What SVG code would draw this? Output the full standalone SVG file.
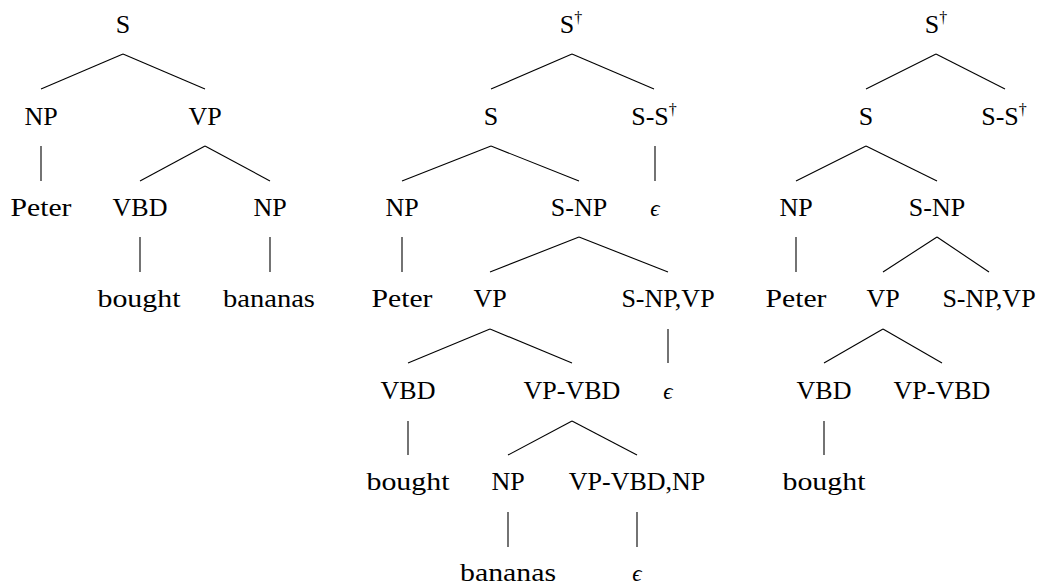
<svg xmlns="http://www.w3.org/2000/svg" width="1041" height="588" viewBox="0 0 1041 588">
  <style>
    .nodes text { font-size: 26px; fill: #000; text-anchor: middle; }
    .nodes text.eps { font-style: italic; font-size: 23px; }
    .nodes tspan.dag { font-size: 16px; }
    .edges line { stroke: #000; stroke-width: 1.1; fill: none; }
  </style>
  <rect width="1041" height="588" fill="#fff"/>

  <!-- connectors -->
  <g class="edges" id="edges">
    <!-- tree 1 -->
    <line x1="123" y1="54" x2="41" y2="89"/>
    <line x1="123" y1="54" x2="205" y2="89"/>
    <line x1="41" y1="146" x2="41" y2="181"/>
    <line x1="205" y1="146" x2="140" y2="181"/>
    <line x1="205" y1="146" x2="270" y2="181"/>
    <line x1="140" y1="237" x2="140" y2="272"/>
    <line x1="270" y1="237" x2="270" y2="272"/>
    <!-- tree 2 -->
    <line x1="572" y1="54" x2="491" y2="89"/>
    <line x1="572" y1="54" x2="654" y2="89"/>
    <line x1="491" y1="146" x2="402" y2="181"/>
    <line x1="491" y1="146" x2="579" y2="181"/>
    <line x1="655" y1="146" x2="655" y2="181"/>
    <line x1="402" y1="237" x2="402" y2="272"/>
    <line x1="579" y1="237" x2="490" y2="272"/>
    <line x1="579" y1="237" x2="668" y2="272"/>
    <line x1="490" y1="329" x2="408" y2="363"/>
    <line x1="490" y1="329" x2="572" y2="363"/>
    <line x1="668" y1="329" x2="668" y2="363"/>
    <line x1="408" y1="421" x2="408" y2="455"/>
    <line x1="572" y1="421" x2="508" y2="455"/>
    <line x1="572" y1="421" x2="637" y2="455"/>
    <line x1="508" y1="512" x2="508" y2="547"/>
    <line x1="637" y1="512" x2="637" y2="547"/>
    <!-- tree 3 -->
    <line x1="936" y1="54" x2="866" y2="89"/>
    <line x1="936" y1="54" x2="1005" y2="89"/>
    <line x1="866" y1="146" x2="796" y2="181"/>
    <line x1="866" y1="146" x2="937" y2="181"/>
    <line x1="796" y1="237" x2="796" y2="272"/>
    <line x1="937" y1="237" x2="883" y2="272"/>
    <line x1="937" y1="237" x2="989" y2="272"/>
    <line x1="883" y1="329" x2="824" y2="363"/>
    <line x1="883" y1="329" x2="942" y2="363"/>
    <line x1="824" y1="421" x2="824" y2="455"/>
  </g>

  <g class="nodes" font-family="Liberation Serif, Times New Roman, serif">
    <!-- tree 1 nodes -->
    <g id="t1-S"><text x="123" y="33">S</text></g>
    <g id="t1-NP"><text x="41" y="125">NP</text></g>
    <g id="t1-VP"><text x="205" y="125">VP</text></g>
    <g id="t1-Peter"><text x="41" y="216" textLength="61" lengthAdjust="spacingAndGlyphs">Peter</text></g>
    <g id="t1-VBD"><text x="140" y="216">VBD</text></g>
    <g id="t1-NP2"><text x="270" y="216">NP</text></g>
    <g id="t1-bought"><text x="139" y="307" textLength="83" lengthAdjust="spacingAndGlyphs">bought</text></g>
    <g id="t1-bananas"><text x="269" y="307" textLength="92" lengthAdjust="spacingAndGlyphs">bananas</text></g>

    <!-- tree 2 nodes -->
    <g id="t2-Sdag"><text x="571" y="33">S<tspan class="dag" dy="-10">†</tspan></text></g>
    <g id="t2-S"><text x="491" y="125">S</text></g>
    <g id="t2-SSdag"><text x="654" y="125">S-S<tspan class="dag" dy="-10">†</tspan></text></g>
    <g id="t2-NP"><text x="402" y="216">NP</text></g>
    <g id="t2-SNP"><text x="579" y="216">S-NP</text></g>
    <g id="t2-eps1"><text class="eps" x="655" y="216">ϵ</text></g>
    <g id="t2-Peter"><text x="402" y="307" textLength="61" lengthAdjust="spacingAndGlyphs">Peter</text></g>
    <g id="t2-VP"><text x="490" y="307">VP</text></g>
    <g id="t2-SNPVP"><text x="668" y="307">S-NP,VP</text></g>
    <g id="t2-VBD"><text x="408" y="399">VBD</text></g>
    <g id="t2-VPVBD"><text x="572" y="399">VP-VBD</text></g>
    <g id="t2-eps2"><text class="eps" x="668" y="399">ϵ</text></g>
    <g id="t2-bought"><text x="408" y="490" textLength="83" lengthAdjust="spacingAndGlyphs">bought</text></g>
    <g id="t2-NP2"><text x="508" y="490">NP</text></g>
    <g id="t2-VPVBDNP"><text x="637" y="490">VP-VBD,NP</text></g>
    <g id="t2-bananas"><text x="508" y="581" textLength="96" lengthAdjust="spacingAndGlyphs">bananas</text></g>
    <g id="t2-eps3"><text class="eps" x="637" y="581">ϵ</text></g>

    <!-- tree 3 nodes -->
    <g id="t3-Sdag"><text x="936" y="33">S<tspan class="dag" dy="-10">†</tspan></text></g>
    <g id="t3-S"><text x="866" y="125">S</text></g>
    <g id="t3-SSdag"><text x="1004" y="125">S-S<tspan class="dag" dy="-10">†</tspan></text></g>
    <g id="t3-NP"><text x="796" y="216">NP</text></g>
    <g id="t3-SNP"><text x="937" y="216">S-NP</text></g>
    <g id="t3-Peter"><text x="796" y="307" textLength="61" lengthAdjust="spacingAndGlyphs">Peter</text></g>
    <g id="t3-VP"><text x="883" y="307">VP</text></g>
    <g id="t3-SNPVP"><text x="989" y="307">S-NP,VP</text></g>
    <g id="t3-VBD"><text x="824" y="399">VBD</text></g>
    <g id="t3-VPVBD"><text x="942" y="399">VP-VBD</text></g>
    <g id="t3-bought"><text x="824" y="490" textLength="83" lengthAdjust="spacingAndGlyphs">bought</text></g>
  </g>
</svg>
